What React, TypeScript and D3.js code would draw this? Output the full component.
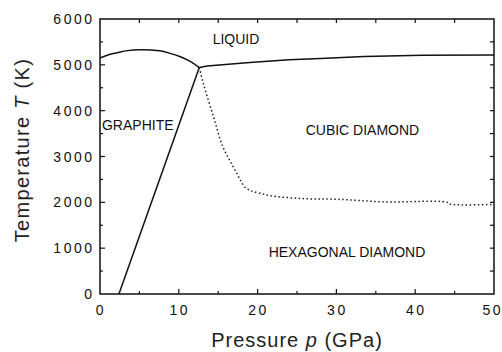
import { useEffect, useRef } from 'react';
import * as d3 from 'd3';

// phase boundaries of carbon as [pressure GPa, temperature K]
const graphiteLiquid: [number, number][] = [
    [0, 5150], [1, 5215], [2.2, 5265], [3.5, 5310], [5.1, 5330], [6.5, 5325], [7.6, 5305],
    [9, 5245], [10.2, 5175], [11.5, 5070], [12.6, 4940],
];
const diamondLiquid: [number, number][] = [
    [12.6, 4940], [13.6, 4975], [19, 5050], [24, 5110], [28, 5140], [33.5, 5180], [41, 5210], [50, 5215],
];
const graphiteDiamond: [number, number][] = [
    [2.4, 0], [12.6, 4940],
];
const cubicHexagonal: [number, number][] = [
    [12.6, 4940], [13.1, 4600], [14.4, 3870], [15.6, 3210], [16.9, 2780], [17.8, 2490], [18.4, 2330],
    [19.2, 2250], [20.3, 2200], [21.6, 2145], [25.9, 2080], [30.2, 2066], [36, 2010], [44, 2005],
    [44.5, 1960], [50, 1957],
];

const xTicks = [0, 10, 20, 30, 40, 50];
const yTicks = [0, 1000, 2000, 3000, 4000, 5000, 6000];

const phaseLabels = [
    { text: 'LIQUID', p: 14.3, T: 5455 },
    { text: 'GRAPHITE', p: 0.25, T: 3578 },
    { text: 'CUBIC DIAMOND', p: 26.1, T: 3469 },
    { text: 'HEXAGONAL DIAMOND', p: 21.4, T: 807 },
];

const App = () => {
    const svgRef = useRef<SVGSVGElement>(null);

    useEffect(() => {
        const svg = d3.select(svgRef.current);
        svg.selectAll('*').remove();

        const left = 100;
        const right = 494;
        const top = 19;
        const bottom = 294;
        const font = 'Liberation Sans, Arial, sans-serif';

        const x = d3.scaleLinear().domain([0, 50]).range([left, right]);
        const y = d3.scaleLinear().domain([0, 6000]).range([bottom, top]);

        svg.append('rect')
            .attr('width', 502)
            .attr('height', 352)
            .attr('fill', '#fff');

        const line = d3
            .line<[number, number]>()
            .x((d) => x(d[0]))
            .y((d) => y(d[1]));

        const smooth = d3
            .line<[number, number]>()
            .x((d) => x(d[0]))
            .y((d) => y(d[1]))
            .curve(d3.curveCatmullRom.alpha(0.5));

        svg.append('path')
            .datum(graphiteLiquid)
            .attr('d', smooth)
            .attr('fill', 'none')
            .attr('stroke', '#111')
            .attr('stroke-width', 1.5);

        svg.append('path')
            .datum(diamondLiquid)
            .attr('d', line)
            .attr('fill', 'none')
            .attr('stroke', '#111')
            .attr('stroke-width', 1.5);

        svg.append('path')
            .datum(graphiteDiamond)
            .attr('d', line)
            .attr('fill', 'none')
            .attr('stroke', '#111')
            .attr('stroke-width', 1.5);

        svg.append('path')
            .datum(cubicHexagonal)
            .attr('d', smooth)
            .attr('fill', 'none')
            .attr('stroke', '#222')
            .attr('stroke-width', 1.5)
            .attr('stroke-dasharray', '1.5,2.5');

        // frame and inward ticks
        svg.append('rect')
            .attr('x', left)
            .attr('y', top)
            .attr('width', right - left)
            .attr('height', bottom - top)
            .attr('fill', 'none')
            .attr('stroke', '#111')
            .attr('stroke-width', 1.5);

        const ticks = svg.append('g').attr('stroke', '#111').attr('stroke-width', 1.2);
        d3.range(5, 50, 5).forEach((p) => {
            const len = p % 10 === 0 ? 5 : 3;
            ticks.append('line').attr('x1', x(p)).attr('x2', x(p)).attr('y1', bottom).attr('y2', bottom - len);
            ticks.append('line').attr('x1', x(p)).attr('x2', x(p)).attr('y1', top).attr('y2', top + 4);
        });
        d3.range(500, 6000, 500).forEach((t) => {
            const len = t % 1000 === 0 ? 5 : 3;
            ticks.append('line').attr('x1', left).attr('x2', left + len).attr('y1', y(t)).attr('y2', y(t));
            ticks.append('line').attr('x1', right).attr('x2', right - 4).attr('y1', y(t)).attr('y2', y(t));
        });

        // tick labels (the last one is pulled in so it stays inside the picture)
        svg.selectAll('.xlabel')
            .data(xTicks)
            .enter()
            .append('text')
            .attr('x', (d) => (d === 50 ? 503 : x(d) + 1))
            .attr('y', bottom + 21)
            .attr('text-anchor', (d) => (d === 50 ? 'end' : 'middle'))
            .attr('font-family', font)
            .attr('font-size', '14px')
            .attr('letter-spacing', '2.5px')
            .attr('fill', '#111')
            .text((d) => d);

        svg.selectAll('.ylabel')
            .data(yTicks)
            .enter()
            .append('text')
            .attr('x', left - 8 + 2.5)
            .attr('y', (d) => y(d) + 5)
            .attr('text-anchor', 'end')
            .attr('font-family', font)
            .attr('font-size', '14px')
            .attr('letter-spacing', '2.5px')
            .attr('fill', '#111')
            .text((d) => d);

        // phase names
        svg.selectAll('.phase')
            .data(phaseLabels)
            .enter()
            .append('text')
            .attr('x', (d) => x(d.p))
            .attr('y', (d) => y(d.T))
            .attr('font-family', font)
            .attr('font-size', '14px')
            .attr('fill', '#111')
            .text((d) => d.text);

        // axis titles
        const xTitle = svg.append('text')
            .attr('x', 297)
            .attr('y', 347)
            .attr('text-anchor', 'middle')
            .attr('font-family', font)
            .attr('font-size', '20px')
            .attr('letter-spacing', '1px')
            .attr('fill', '#222');
        xTitle.append('tspan').text('Pressure ');
        xTitle.append('tspan').attr('font-style', 'italic').text('p');
        xTitle.append('tspan').text(' (GPa)');

        const yTitle = svg.append('text')
            .attr('transform', 'translate(29,150) rotate(-90)')
            .attr('text-anchor', 'middle')
            .attr('font-family', font)
            .attr('font-size', '20px')
            .attr('letter-spacing', '1.3px')
            .attr('fill', '#222');
        yTitle.append('tspan').text('Temperature ');
        yTitle.append('tspan').attr('font-style', 'italic').text('T');
        yTitle.append('tspan').text(' (K)');
    }, []);

    return (
        <div style={{ position: 'absolute', left: 0, top: 0 }}>
            <svg ref={svgRef} width={502} height={352} style={{ display: 'block' }}></svg>
        </div>
    );
};

export default App;
